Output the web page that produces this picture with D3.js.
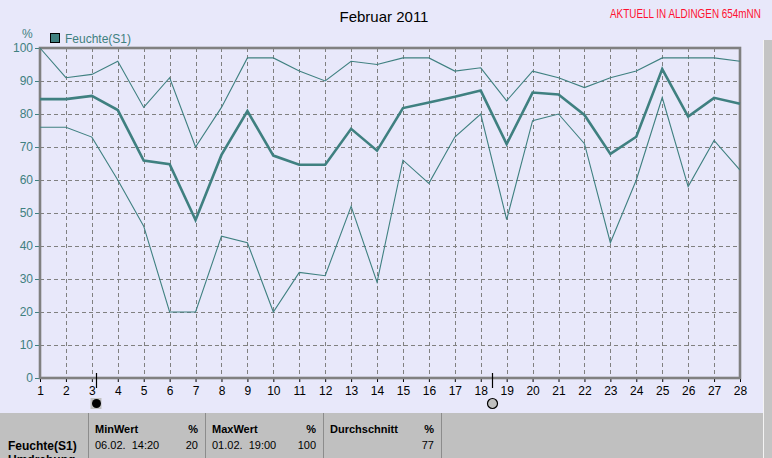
<!DOCTYPE html>
<html><head><meta charset="utf-8">
<script src="https://cdn.jsdelivr.net/npm/d3@7"></script>
<style>
html,body{margin:0;padding:0;background:#e8e8fa;}
svg{display:block;}
text{font-family:Arial,"Liberation Sans",sans-serif;}
</style></head>
<body>
<svg id="c" width="772" height="458"></svg>
<script>
const days = d3.range(1, 29);
const maxValues = [100,91,92,96,82,91,70,82,97,97,93,90,96,95,97,97,93,94,84,93,91,88,91,93,97,97,97,96];
const meanValues = [84.5,84.5,85.5,81.2,65.9,64.8,47.9,67.6,80.9,67.4,64.6,64.6,75.5,68.9,81.8,83.5,85.2,87.1,70.9,86.5,85.9,79.7,67.9,73.1,93.6,79.2,84.9,83.1];
const minValues = [76,76,73,60,46,20,20,43,41,20,32,31,52,29,66,59,73,80,48,78,80,71,41,60,85,58,72,63];
const yTicks = [0,10,20,30,40,50,60,70,80,90,100];
const markerDays = [3.17, 18.42];
const title = "Februar 2011";
const stationLabel = "AKTUELL IN ALDINGEN 654mNN";
const seriesName = "Feuchte(S1)";
const unit = "%";
const tableHeaders = ["MinWert","MaxWert","Durchschnitt"];
const tableValues = [["06.02.  14:20","20"],["01.02.  19:00","100"],["","77"]];

const teal = "#3f8080", grid = "#808080";
const svg = d3.select("#c");
const W = 772, H = 458;
const x = d3.scaleLinear().domain([1, 28]).range([40, 740]);
const y = d3.scaleLinear().domain([0, 100]).range([378, 48]);

svg.append("rect").attr("width", W).attr("height", 413).attr("fill", "#e8e8fa");
// bottom panel
svg.append("rect").attr("y", 413).attr("width", W).attr("height", H - 413).attr("fill", "#c0c0c0");
// right strip
svg.append("rect").attr("x", 763).attr("y", 40).attr("width", 9).attr("height", H - 40).attr("fill", "#c4c4c4");
svg.append("line").attr("x1", 763.5).attr("x2", 763.5).attr("y1", 40).attr("y2", H).attr("stroke", "#f4f4f4");

// title texts
svg.append("text").attr("x", 384).attr("y", 22).attr("text-anchor", "middle")
  .attr("font-size", 15).attr("fill", "#000").text(title);
const stG = svg.append("g");
const stT = stG.append("text").attr("x", 0).attr("y", 0).attr("font-size", 12.5)
  .attr("fill", "#ff1030").text(stationLabel);
const natW = stT.node().getComputedTextLength() || 151;
stG.attr("transform", `translate(610,18) scale(${151 / natW},1)`);

// gridlines
svg.append("g").selectAll("line").data(yTicks.filter(t => t > 0 && t < 100)).join("line")
  .attr("x1", x(1)).attr("x2", x(28)).attr("y1", d => y(d) + 0.5).attr("y2", d => y(d) + 0.5)
  .attr("stroke", grid).attr("stroke-dasharray", "4,3");
svg.append("g").selectAll("line").data(days.filter(d => d > 1 && d < 28)).join("line")
  .attr("x1", d => Math.round(x(d)) + 0.5).attr("x2", d => Math.round(x(d)) + 0.5)
  .attr("y1", y(100)).attr("y2", y(0))
  .attr("stroke", grid).attr("stroke-dasharray", "4,3");

// axes via d3
const yAxis = d3.axisLeft(y).tickValues(yTicks).tickSize(5).tickPadding(2);
const gy = svg.append("g").attr("transform", "translate(40,0)").call(yAxis);
gy.select(".domain").remove();
gy.selectAll(".tick line").attr("stroke", teal);
gy.selectAll(".tick text").attr("fill", teal).attr("font-size", 12).attr("font-family", "Arial,'Liberation Sans',sans-serif");

const xAxis = d3.axisBottom(x).tickValues(days).tickSize(4).tickPadding(4).tickFormat(d3.format("d"));
const gx = svg.append("g").attr("transform", "translate(0,378)").call(xAxis);
gx.select(".domain").remove();
gx.selectAll(".tick line").attr("stroke", "#000");
gx.selectAll(".tick text").attr("fill", "#000").attr("font-size", 12).attr("font-family", "Arial,'Liberation Sans',sans-serif");

// frame
svg.append("rect").attr("x", x(1)).attr("y", y(100)).attr("width", x(28) - x(1)).attr("height", y(0) - y(100))
  .attr("fill", "none").attr("stroke", "#808080").attr("stroke-width", 2.6);

// lines
const line = d3.line().x((d, i) => x(days[i])).y(d => y(d));
svg.append("path").datum(maxValues).attr("d", line).attr("fill", "none").attr("stroke", teal).attr("stroke-width", 1.1);
svg.append("path").datum(minValues).attr("d", line).attr("fill", "none").attr("stroke", teal).attr("stroke-width", 1.1);
svg.append("path").datum(meanValues).attr("d", line).attr("fill", "none").attr("stroke", teal).attr("stroke-width", 2.6);

// unit & legend
svg.append("text").attr("x", 22).attr("y", 38).attr("font-size", 12).attr("fill", teal).text(unit);
svg.append("rect").attr("x", 50.5).attr("y", 33.5).attr("width", 9).attr("height", 9)
  .attr("fill", teal).attr("stroke", "#000").attr("stroke-width", 1);
svg.append("text").attr("x", 65).attr("y", 43).attr("font-size", 12).attr("fill", teal).text(seriesName);

// markers
markerDays.forEach((md, i) => {
  const px = Math.round(x(md)) + 0.5;
  svg.append("line").attr("x1", px).attr("x2", px).attr("y1", 373).attr("y2", 388).attr("stroke", "#000").attr("stroke-width", 1.2);
  if (i === 0) {
    svg.append("rect").attr("x", px - 6).attr("y", 398).attr("width", 11).attr("height", 11).attr("fill", "#c0c0c0");
    svg.append("circle").attr("cx", px).attr("cy", 403.5).attr("r", 4.5).attr("fill", "#000");
  } else {
    svg.append("circle").attr("cx", px).attr("cy", 403.5).attr("r", 5).attr("fill", "#c0c0c0").attr("stroke", "#000").attr("stroke-width", 1.2);
  }
});

// bottom table
const seps = [88, 205, 323, 441];
seps.forEach(s => svg.append("line").attr("x1", s + 0.5).attr("x2", s + 0.5).attr("y1", 413).attr("y2", H).attr("stroke", "#8c8c8c"));
svg.append("text").attr("x", 8).attr("y", 450).attr("font-size", 12).attr("font-weight", "bold").attr("fill", "#000").text(seriesName);
svg.append("text").attr("x", 8).attr("y", 464).attr("font-size", 12).attr("font-weight", "bold").attr("fill", "#000").text("Umdrehung");
tableHeaders.forEach((h, i) => {
  const x0 = seps[i], x1 = seps[i + 1];
  svg.append("text").attr("x", x0 + 7).attr("y", 433).attr("font-size", 11).attr("font-weight", "bold").attr("fill", "#000").text(h);
  svg.append("text").attr("x", x1 - 7).attr("y", 433).attr("text-anchor", "end").attr("font-size", 11).attr("font-weight", "bold").attr("fill", "#000").text(unit);
  svg.append("text").attr("x", x0 + 7).attr("y", 449).attr("font-size", 11).attr("fill", "#000").attr("xml:space", "preserve").text(tableValues[i][0]);
  svg.append("text").attr("x", x1 - 7).attr("y", 449).attr("text-anchor", "end").attr("font-size", 11).attr("fill", "#000").text(tableValues[i][1]);
});
</script>
</body></html>
